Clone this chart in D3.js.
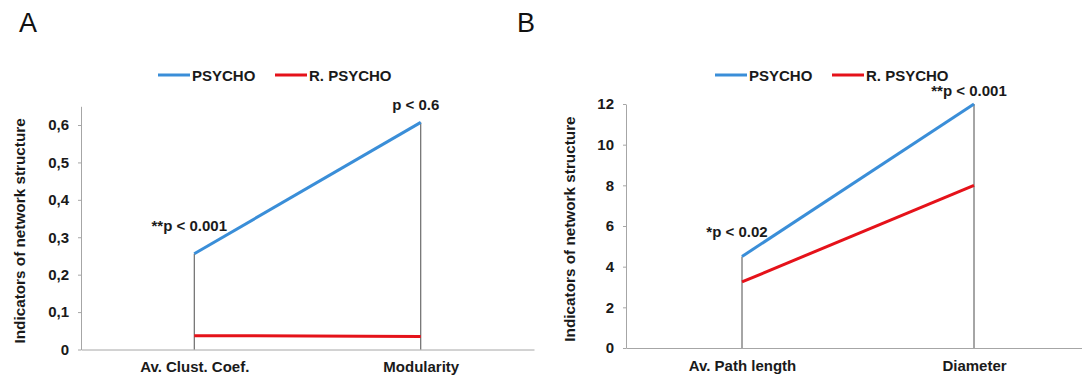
<!DOCTYPE html>
<html>
<head>
<meta charset="utf-8">
<script src="https://d3js.org/d3.v7.min.js"></script>
<style>
  body { margin: 0; background: #fff; }
  svg { display: block; font-family: "Liberation Sans", Arial, sans-serif; }
  .tick text, .lbl { font-weight: bold; fill: #1a1a1a; }
</style>
</head>
<body>
<div id="chart"></div>
<script>
// ---- data ----
var seriesNames = ["PSYCHO", "R. PSYCHO"];
var seriesColors = ["#3a8ed8", "#e5121a"];

// panel A
var catsA = ["Av. Clust. Coef.", "Modularity"];
var psychoA = [0.256, 0.607];
var rpsychoA = [0.037, 0.035];
var pLabelsA = ["**p < 0.001", "p < 0.6"];
var ticksA = [0, 0.1, 0.2, 0.3, 0.4, 0.5, 0.6];
var tickLabelsA = ["0", "0,1", "0,2", "0,3", "0,4", "0,5", "0,6"];

// panel B
var catsB = ["Av. Path length", "Diameter"];
var psychoB = [4.5, 12.0];
var rpsychoB = [3.25, 8.0];
var pLabelsB = ["*p < 0.02", "**p < 0.001"];
var ticksB = [0, 2, 4, 6, 8, 10, 12];
var tickLabelsB = ["0", "2", "4", "6", "8", "10", "12"];

var W = 1082, H = 378;
var svg = d3.select("#chart").append("svg")
  .attr("width", W).attr("height", H);

function panel(o) {
  var x = d3.scalePoint().domain(o.cats).range(o.xr).padding(0.5);
  var y = d3.scaleLinear().domain(o.yd).range(o.yr);
  var g = svg.append("g");

  // panel letter
  g.append("text").attr("x", o.letterX).attr("y", 32)
    .style("font-size", "27px").style("fill", "#111").text(o.letter);

  // y axis
  var ya = g.append("g").attr("transform", "translate(" + o.xr[0] + ",0)")
    .call(d3.axisLeft(y).tickValues(o.ticks).tickSize(3).tickSizeOuter(0).tickPadding(9)
      .tickFormat(function (d, i) { return o.tickLabels[i]; }));
  ya.select(".domain").attr("stroke", "#a6a6a6");
  ya.selectAll(".tick line").attr("stroke", "#a6a6a6");
  ya.selectAll(".tick text").style("font-size", "15px");

  // x axis
  var xa = g.append("g").attr("transform", "translate(0," + o.yr[0] + ")")
    .call(d3.axisBottom(x).tickSize(0).tickSizeOuter(0).tickPadding(12));
  xa.select(".domain").attr("stroke", "#a6a6a6");
  xa.selectAll(".tick text").style("font-size", "15px");

  // y title
  g.append("text").attr("class", "lbl")
    .attr("transform", "translate(" + o.titleX + "," + ((o.yr[0] + o.yr[1]) / 2 + 3) + ") rotate(-90)")
    .attr("text-anchor", "middle").style("font-size", "15.3px")
    .text("Indicators of network structure");

  // drop lines
  g.selectAll(".drop").data(o.cats).enter().append("line")
    .attr("x1", function (d) { return x(d); }).attr("x2", function (d) { return x(d); })
    .attr("y1", function (d, i) { return y(o.s1[i]); }).attr("y2", o.yr[0])
    .attr("stroke", "#4d4d4d").attr("stroke-width", 1);

  // series lines
  var line = d3.line()
    .x(function (d, i) { return x(o.cats[i]); })
    .y(function (d) { return y(d); });
  [o.s2, o.s1].forEach(function (s, k) {
    g.append("path").datum(s).attr("d", line)
      .attr("fill", "none").attr("stroke", seriesColors[1 - k]).attr("stroke-width", 3);
  });

  // p-value labels
  g.selectAll(".pl").data(o.pLabels).enter().append("text").attr("class", "lbl")
    .attr("x", function (d, i) { return x(o.cats[i]) - 5; })
    .attr("y", function (d, i) { return y(o.s1[i]) - o.pOff[i]; })
    .attr("text-anchor", "middle").style("font-size", "15px")
    .text(function (d) { return d; });

  // legend
  var lg = g.append("g").attr("transform", "translate(" + o.legX + ",75)");
  var offs = [0, 117];
  seriesNames.forEach(function (n, i) {
    lg.append("line").attr("x1", offs[i]).attr("x2", offs[i] + 32)
      .attr("y1", 0).attr("y2", 0)
      .attr("stroke", seriesColors[i]).attr("stroke-width", 3);
    lg.append("text").attr("class", "lbl").attr("x", offs[i] + 34).attr("y", 5.5)
      .style("font-size", "15px").text(n);
  });
}

panel({
  letter: "A", letterX: 19,
  cats: catsA, s1: psychoA, s2: rpsychoA, pLabels: pLabelsA, pOff: [23, 12],
  ticks: ticksA, tickLabels: tickLabelsA,
  xr: [81, 534], yd: [0, 0.65], yr: [349.5, 106.3],
  titleX: 25, legX: 158
});

panel({
  letter: "B", letterX: 517,
  cats: catsB, s1: psychoB, s2: rpsychoB, pLabels: pLabelsB, pOff: [20, 8],
  ticks: ticksB, tickLabels: tickLabelsB,
  xr: [626, 1090], yd: [0, 12], yr: [348, 104],
  titleX: 575, legX: 715
});
</script>
</body>
</html>
